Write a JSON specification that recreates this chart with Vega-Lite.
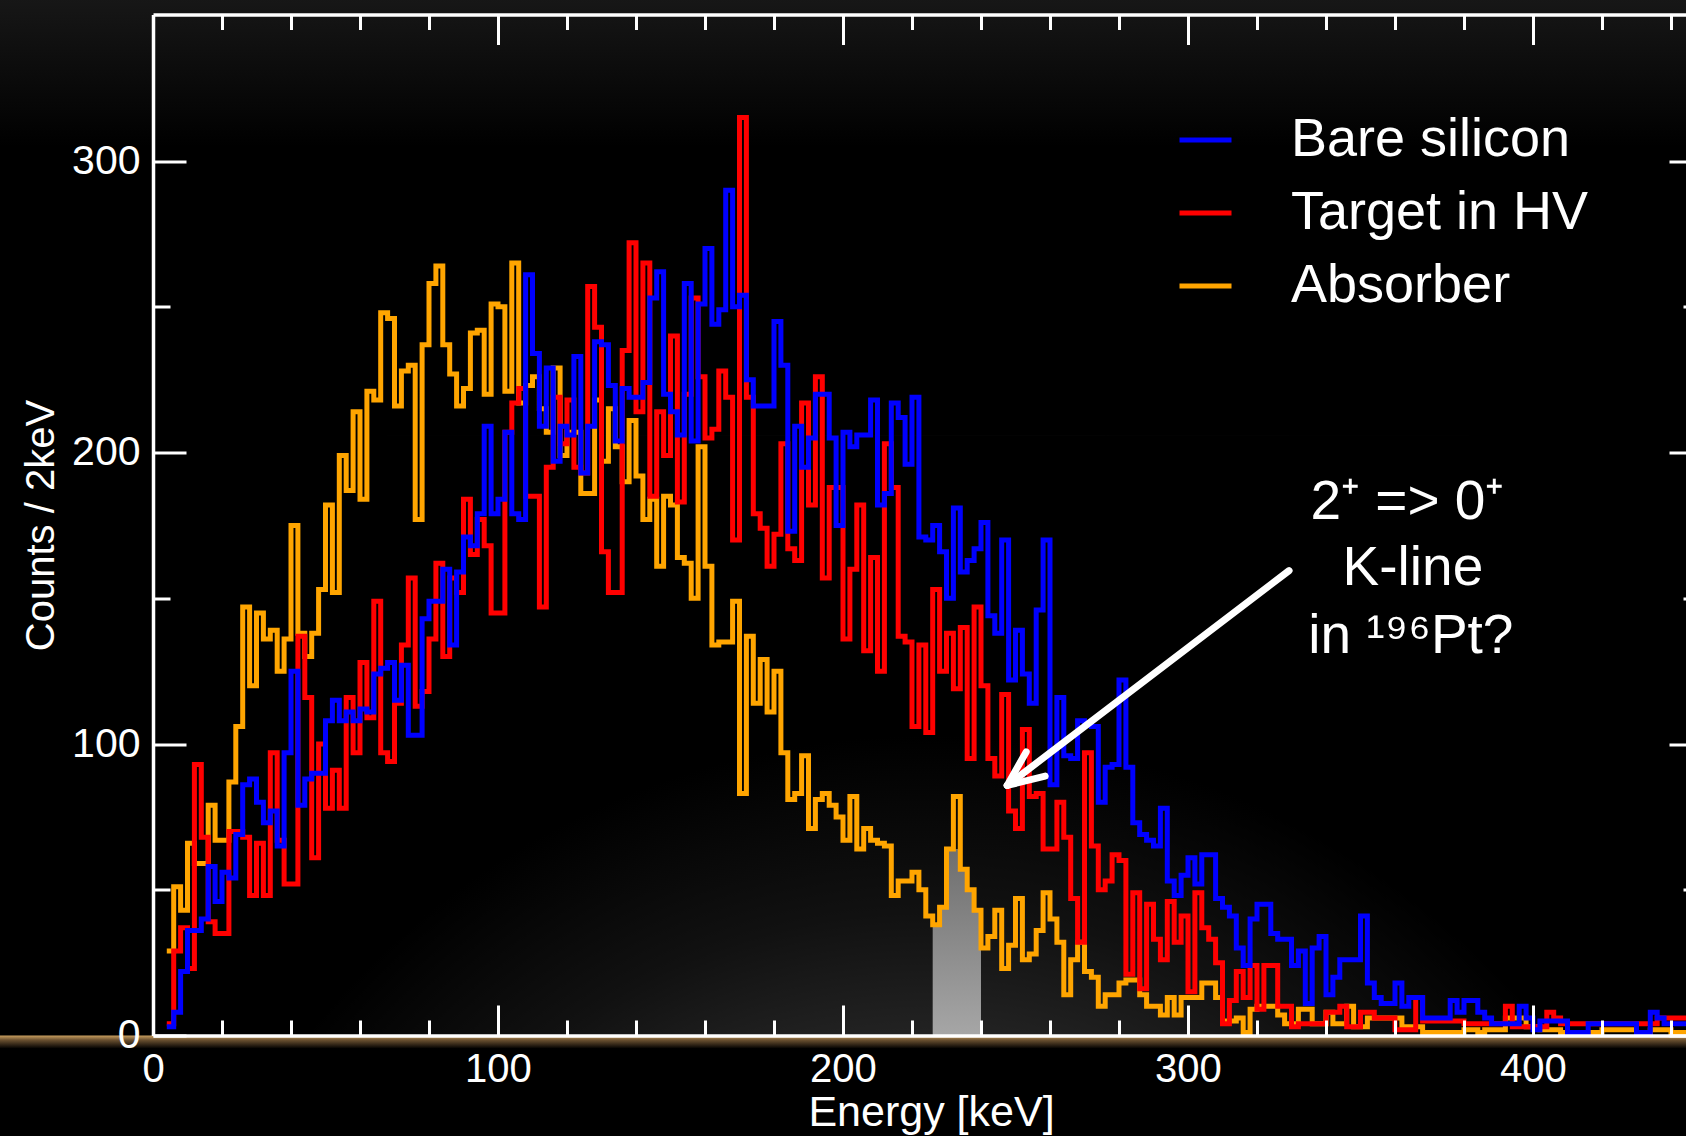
{
  "$schema": "https://vega.github.io/schema/vega-lite/v6.json",
  "width": 1533,
  "height": 1021,
  "autosize": {"type": "none"},
  "padding": {"left": 153, "top": 14.5, "right": 0, "bottom": 100.5},
  "background": "#000000",
  "config": {"view": {"stroke": null}, "font": "Liberation Sans"},
  "data": {"values": [
    {"E":4,"b":3,"r":4,"o":29},{"E":6,"b":8,"r":29,"o":51},{"E":8,"b":22,"r":37,"o":43},{"E":10,"b":36,"r":23,"o":66},
    {"E":12,"b":36,"r":93,"o":59},{"E":14,"b":40,"r":68,"o":59},{"E":16,"b":58,"r":39,"o":79},{"E":18,"b":46,"r":35,"o":67},
    {"E":20,"b":56,"r":35,"o":67},{"E":22,"b":54,"r":70,"o":87},{"E":24,"b":69,"r":70,"o":106},{"E":26,"b":86,"r":68,"o":147},
    {"E":28,"b":88,"r":48,"o":120},{"E":30,"b":80,"r":66,"o":145},{"E":32,"b":73,"r":48,"o":136},{"E":34,"b":77,"r":97,"o":139},
    {"E":36,"b":65,"r":67,"o":125},{"E":38,"b":97,"r":52,"o":136},{"E":40,"b":125,"r":52,"o":175},{"E":42,"b":79,"r":137,"o":138},
    {"E":44,"b":88,"r":116,"o":130},{"E":46,"b":90,"r":61,"o":138},{"E":48,"b":90,"r":100,"o":153},{"E":50,"b":108,"r":78,"o":182},
    {"E":52,"b":115,"r":91,"o":152},{"E":54,"b":108,"r":78,"o":199},{"E":56,"b":111,"r":116,"o":187},{"E":58,"b":108,"r":97,"o":214},
    {"E":60,"b":112,"r":128,"o":184},{"E":62,"b":111,"r":109,"o":221},{"E":64,"b":124,"r":149,"o":218},{"E":66,"b":126,"r":97,"o":248},
    {"E":68,"b":128,"r":94,"o":246},{"E":70,"b":115,"r":114,"o":216},{"E":72,"b":127,"r":134,"o":228},{"E":74,"b":103,"r":157,"o":230},
    {"E":76,"b":103,"r":113,"o":177},{"E":78,"b":143,"r":118,"o":237},{"E":80,"b":149,"r":136,"o":258},{"E":82,"b":149,"r":162,"o":264},
    {"E":84,"b":160,"r":130,"o":237},{"E":86,"b":134,"r":157,"o":227},{"E":88,"b":159,"r":152,"o":216},{"E":90,"b":171,"r":184,"o":222},
    {"E":92,"b":168,"r":165,"o":241},{"E":94,"b":179,"r":177,"o":242},{"E":96,"b":209,"r":168,"o":220},{"E":98,"b":179,"r":145,"o":251},
    {"E":100,"b":184,"r":145,"o":250},{"E":102,"b":207,"r":207,"o":221},{"E":104,"b":179,"r":217,"o":265},{"E":106,"b":177,"r":222,"o":217},
    {"E":108,"b":261,"r":185,"o":223},{"E":110,"b":234,"r":185,"o":226},{"E":112,"b":209,"r":147,"o":215},{"E":114,"b":229,"r":195,"o":207},
    {"E":116,"b":197,"r":219,"o":229},{"E":118,"b":209,"r":203,"o":199},{"E":120,"b":206,"r":218,"o":207},{"E":122,"b":233,"r":195,"o":207},
    {"E":124,"b":193,"r":193,"o":186},{"E":126,"b":209,"r":257,"o":186},{"E":128,"b":238,"r":243,"o":218},{"E":130,"b":237,"r":166,"o":197},
    {"E":132,"b":223,"r":152,"o":215},{"E":134,"b":204,"r":152,"o":202},{"E":136,"b":222,"r":235,"o":190},{"E":138,"b":219,"r":272,"o":211},
    {"E":140,"b":219,"r":214,"o":192},{"E":142,"b":224,"r":265,"o":177},{"E":144,"b":253,"r":185,"o":184},{"E":146,"b":262,"r":214,"o":161},
    {"E":148,"b":220,"r":199,"o":185},{"E":150,"b":214,"r":240,"o":182},{"E":152,"b":206,"r":183,"o":164},{"E":154,"b":258,"r":220,"o":162},
    {"E":156,"b":204,"r":253,"o":150},{"E":158,"b":251,"r":226,"o":202},{"E":160,"b":270,"r":205,"o":161},{"E":162,"b":244,"r":208,"o":134},
    {"E":164,"b":249,"r":228,"o":135},{"E":166,"b":290,"r":219,"o":135},{"E":168,"b":250,"r":170,"o":149},{"E":170,"b":254,"r":315,"o":83},
    {"E":172,"b":225,"r":219,"o":137},{"E":174,"b":216,"r":179,"o":114},{"E":176,"b":216,"r":174,"o":129},{"E":178,"b":216,"r":161,"o":111},
    {"E":180,"b":245,"r":172,"o":125},{"E":182,"b":230,"r":203,"o":97},{"E":184,"b":173,"r":167,"o":81},{"E":186,"b":209,"r":163,"o":83},
    {"E":188,"b":195,"r":217,"o":96},{"E":190,"b":205,"r":182,"o":71},{"E":192,"b":220,"r":226,"o":81},{"E":194,"b":220,"r":157,"o":83},
    {"E":196,"b":205,"r":188,"o":79},{"E":198,"b":175,"r":188,"o":75},{"E":200,"b":207,"r":136,"o":67},{"E":202,"b":202,"r":160,"o":82},
    {"E":204,"b":206,"r":182,"o":64},{"E":206,"b":206,"r":132,"o":71},{"E":208,"b":218,"r":164,"o":67},{"E":210,"b":182,"r":125,"o":66},
    {"E":212,"b":186,"r":203,"o":65},{"E":214,"b":217,"r":188,"o":48},{"E":216,"b":212,"r":137,"o":53},{"E":218,"b":196,"r":135,"o":53},
    {"E":220,"b":219,"r":106,"o":56},{"E":222,"b":171,"r":134,"o":50},{"E":224,"b":170,"r":104,"o":41},{"E":226,"b":175,"r":153,"o":38},
    {"E":228,"b":166,"r":125,"o":44},{"E":230,"b":150,"r":138,"o":64},{"E":232,"b":181,"r":119,"o":82},{"E":234,"b":159,"r":140,"o":57},
    {"E":236,"b":163,"r":95,"o":50},{"E":238,"b":167,"r":147,"o":43},{"E":240,"b":176,"r":120,"o":30},{"E":242,"b":144,"r":95,"o":34},
    {"E":244,"b":138,"r":89,"o":43},{"E":246,"b":170,"r":117,"o":23},{"E":248,"b":122,"r":77,"o":31},{"E":250,"b":139,"r":71,"o":47},
    {"E":252,"b":124,"r":105,"o":26},{"E":254,"b":114,"r":82,"o":28},{"E":256,"b":146,"r":83,"o":36},{"E":258,"b":170,"r":64,"o":49},
    {"E":260,"b":86,"r":64,"o":40},{"E":262,"b":116,"r":80,"o":32},{"E":264,"b":96,"r":68,"o":14},{"E":266,"b":95,"r":47,"o":26},
    {"E":268,"b":108,"r":32,"o":32},{"E":270,"b":107,"r":97,"o":22},{"E":272,"b":106,"r":65,"o":20},{"E":274,"b":80,"r":50,"o":10},
    {"E":276,"b":92,"r":53,"o":14},{"E":278,"b":93,"r":62,"o":14},{"E":280,"b":122,"r":60,"o":18},{"E":282,"b":92,"r":21,"o":19},
    {"E":284,"b":73,"r":49,"o":19},{"E":286,"b":69,"r":16,"o":14},{"E":288,"b":67,"r":45,"o":10},{"E":290,"b":65,"r":33,"o":10},
    {"E":292,"b":78,"r":26,"o":7},{"E":294,"b":53,"r":46,"o":13},{"E":296,"b":48,"r":32,"o":7},{"E":298,"b":55,"r":41,"o":13},
    {"E":300,"b":61,"r":15,"o":13},{"E":302,"b":52,"r":49,"o":13},{"E":304,"b":62,"r":37,"o":18},{"E":306,"b":62,"r":33,"o":18},
    {"E":308,"b":47,"r":25,"o":13},{"E":310,"b":44,"r":4,"o":5},{"E":312,"b":41,"r":12,"o":5},{"E":314,"b":30,"r":22,"o":6},
    {"E":316,"b":24,"r":13,"o":1},{"E":318,"b":40,"r":24,"o":9},{"E":320,"b":45,"r":9,"o":10},{"E":322,"b":45,"r":24,"o":10},
    {"E":324,"b":35,"r":24,"o":10},{"E":326,"b":33,"r":10,"o":7},{"E":328,"b":33,"r":10,"o":4},{"E":330,"b":24,"r":3,"o":4},
    {"E":332,"b":29,"r":4,"o":9},{"E":334,"b":11,"r":4,"o":9},{"E":336,"b":30,"r":4,"o":4},{"E":338,"b":34,"r":4,"o":4},
    {"E":340,"b":14,"r":8,"o":8},{"E":342,"b":20,"r":8,"o":4},{"E":344,"b":26,"r":10,"o":4},{"E":346,"b":26,"r":3,"o":10},
    {"E":348,"b":26,"r":3,"o":3},{"E":350,"b":41,"r":8,"o":3},{"E":352,"b":18,"r":8,"o":6},{"E":354,"b":13,"r":6,"o":6},
    {"E":356,"b":11,"r":6,"o":6},{"E":358,"b":11,"r":6,"o":6},{"E":360,"b":18,"r":2,"o":6},{"E":362,"b":10,"r":2,"o":3},
    {"E":364,"b":13,"r":2,"o":3},{"E":366,"b":13,"r":13,"o":3},{"E":368,"b":6,"r":5,"o":1},{"E":370,"b":6,"r":5,"o":1},
    {"E":372,"b":6,"r":5,"o":1},{"E":374,"b":6,"r":5,"o":1},{"E":376,"b":12,"r":5,"o":1},{"E":378,"b":8,"r":5,"o":1},
    {"E":380,"b":12,"r":4,"o":2},{"E":382,"b":12,"r":4,"o":2},{"E":384,"b":8,"r":4,"o":1},{"E":386,"b":6,"r":4,"o":2},
    {"E":388,"b":4,"r":4,"o":2},{"E":390,"b":4,"r":4,"o":2},{"E":392,"b":4,"r":10,"o":6},{"E":394,"b":4,"r":3,"o":6},
    {"E":396,"b":10,"r":3,"o":6},{"E":398,"b":6,"r":3,"o":3},{"E":400,"b":2,"r":3,"o":3},{"E":402,"b":5,"r":3,"o":2},
    {"E":404,"b":5,"r":8,"o":2},{"E":406,"b":5,"r":6,"o":2},{"E":408,"b":5,"r":4,"o":1},{"E":410,"b":1,"r":4,"o":1},
    {"E":412,"b":1,"r":4,"o":1},{"E":414,"b":1,"r":4,"o":1},{"E":416,"b":4,"r":4,"o":1},{"E":418,"b":4,"r":4,"o":1},
    {"E":420,"b":4,"r":4,"o":2},{"E":422,"b":4,"r":4,"o":2},{"E":424,"b":4,"r":4,"o":2},{"E":426,"b":4,"r":4,"o":2},
    {"E":428,"b":4,"r":4,"o":2},{"E":430,"b":1,"r":4,"o":1},{"E":432,"b":1,"r":4,"o":1},{"E":434,"b":8,"r":4,"o":2},
    {"E":436,"b":6,"r":6,"o":2},{"E":438,"b":4,"r":6,"o":2},{"E":440,"b":4,"r":6,"o":1},{"E":442,"b":4,"r":6,"o":1},
    {"E":444,"b":4,"r":6,"o":1},{"E":446,"b":4,"r":6,"o":1}
  ]},
  "layer": [
    {
      "data": {"values": [{}]},
      "mark": {"type": "rect", "clip": false, "fill": {"gradient": "linear", "x1": 0, "y1": 0, "x2": 0, "y2": 1, "stops": [{"offset": 0, "color": "#171717"}, {"offset": 1, "color": "#000000"}]}},
      "encoding": {
        "x": {"datum": -60, "type": "quantitative", "scale": {"domain": [0, 444.35], "nice": false, "zero": false},
          "axis": {"orient": "bottom", "values": [0,20,40,60,80,100,120,140,160,180,200,220,240,260,280,300,320,340,360,380,400,420,440],
            "labels": false, "domain": false, "grid": false, "title": null, "ticks": true, "tickSize": -15.5, "tickColor": "#ffffff", "tickWidth": 3, "zindex": 1}},
        "x2": {"datum": 460},
        "y": {"datum": 356, "type": "quantitative", "scale": {"domain": [0, 350.3], "nice": false, "zero": false},
          "axis": {"orient": "left", "values": [50,150,250],
            "labels": false, "domain": false, "grid": false, "title": null, "ticks": true, "tickSize": -17, "tickColor": "#ffffff", "tickWidth": 3, "zindex": 1}},
        "y2": {"datum": 305}
      }
    },
    {
      "data": {"values": [{}]},
      "mark": {"type": "rect", "clip": true, "fill": {"gradient": "radial", "x1": 0.5, "y1": 1, "r1": 0, "x2": 0.5, "y2": 1, "r2": 0.5, "stops": [{"offset": 0, "color": "#4c4c4c"}, {"offset": 0.55, "color": "#2b2b2b"}, {"offset": 0.78, "color": "#111111"}, {"offset": 1, "color": "#000000"}]}},
      "encoding": {
        "x": {"datum": -7, "type": "quantitative", "scale": {"domain": [0, 444.35], "nice": false, "zero": false},
          "axis": {"orient": "bottom", "values": [0,100,200,300,400],
            "labels": false, "domain": false, "grid": false, "title": null, "ticks": true, "tickSize": -30.5, "tickColor": "#ffffff", "tickWidth": 3, "zindex": 1}},
        "x2": {"datum": 457},
        "y": {"datum": 0, "type": "quantitative", "scale": {"domain": [0, 350.3], "nice": false, "zero": false},
          "axis": {"orient": "left", "values": [0,100,200,300],
            "labels": false, "domain": false, "grid": false, "title": null, "ticks": true, "tickSize": -33, "tickColor": "#ffffff", "tickWidth": 3, "zindex": 1}},
        "y2": {"datum": 206}
      }
    },
    {
      "data": {"values": [{}]},
      "mark": {"type": "rect", "clip": false, "fill": {"gradient": "linear", "x1": 0, "y1": 0, "x2": 0, "y2": 1, "stops": [{"offset": 0, "color": "#caa060"}, {"offset": 0.35, "color": "#6a5030"}, {"offset": 1, "color": "#000000"}]}},
      "encoding": {
        "x": {"datum": -50, "type": "quantitative", "scale": {"domain": [0, 444.35], "nice": false, "zero": false},
          "axis": {"orient": "top", "values": [0,100,200,300,400],
            "labels": false, "domain": false, "grid": false, "title": null, "ticks": true, "tickSize": -30, "tickColor": "#ffffff", "tickWidth": 3, "zindex": 1}},
        "x2": {"datum": 460},
        "y": {"datum": 0, "type": "quantitative", "scale": {"domain": [0, 350.3], "nice": false, "zero": false},
          "axis": {"orient": "right", "values": [0,100,200,300],
            "labels": false, "domain": false, "grid": false, "title": null, "ticks": true, "tickSize": -17, "tickColor": "#ffffff", "tickWidth": 3, "zindex": 1}},
        "y2": {"datum": -4.5}
      }
    },
    {
      "data": {"values": [{"E":226,"g":38},{"E":228,"g":44},{"E":230,"g":64},{"E":232,"g":64},{"E":234,"g":57},{"E":236,"g":50},{"E":238,"g":43},{"E":240,"g":43}]},
      "mark": {"type": "area", "interpolate": "step-after", "fill": {"gradient": "linear", "x1": 0, "y1": 0, "x2": 0, "y2": 1, "stops": [{"offset": 0, "color": "#6e6e6e"}, {"offset": 1, "color": "#a6a6a6"}]}},
      "encoding": {
        "x": {"field": "E", "type": "quantitative", "scale": {"domain": [0, 444.35], "nice": false, "zero": false}, "axis": null},
        "y": {"field": "g", "type": "quantitative", "scale": {"domain": [0, 350.3], "nice": false, "zero": false},
          "axis": {"orient": "right", "values": [50,150,250],
            "labels": false, "domain": false, "grid": false, "title": null, "ticks": true, "tickSize": -3, "tickColor": "#ffffff", "tickWidth": 3, "zindex": 1}},
        "y2": {"datum": 0}
      }
    },
    {
      "mark": {"type": "line", "interpolate": "step-after", "strokeWidth": 5, "strokeJoin": "miter", "clip": true},
      "encoding": {
        "x": {"field": "E", "type": "quantitative", "scale": {"domain": [0, 444.35], "nice": false, "zero": false},
          "axis": {"orient": "bottom", "values": [0,100,200,300,400],
            "domainColor": "#ffffff", "domainWidth": 3.5, "ticks": false, "tickSize": 0,
            "labelColor": "#ffffff", "labelFont": "Liberation Sans", "labelFontSize": 40, "labelPadding": 13.5, "labelOverlap": false, "labelFlush": false,
            "grid": false, "title": "Energy [keV]", "titleColor": "#ffffff", "titleFont": "Liberation Sans", "titleFontSize": 43, "titleFontWeight": "normal",
            "titleX": 778, "titleY": 90, "titleBaseline": "alphabetic", "titleAlign": "center", "zindex": 1}},
        "y": {"field": "o", "type": "quantitative", "scale": {"domain": [0, 350.3], "nice": false, "zero": false},
          "axis": {"orient": "left", "values": [0,100,200,300],
            "domainColor": "#ffffff", "domainWidth": 3.5, "ticks": false, "tickSize": 0,
            "labelColor": "#ffffff", "labelFont": "Liberation Sans", "labelFontSize": 41, "labelPadding": 13, "labelOverlap": false, "labelFlush": false,
            "grid": false, "title": "Counts / 2keV", "titleColor": "#ffffff", "titleFont": "Liberation Sans", "titleFontSize": 40, "titleFontWeight": "normal",
            "titleAngle": -90, "titleX": -100, "titleY": 510.5, "titleBaseline": "alphabetic", "titleAlign": "center", "zindex": 1}},
        "color": {"datum": "Absorber", "type": "nominal",
          "scale": {"domain": ["Bare silicon", "Target in HV", "Absorber"], "range": ["#0000ff", "#ff0000", "#ffa500"]},
          "legend": {"orient": "none", "legendX": 1024, "legendY": 97, "title": null, "symbolType": "stroke", "symbolSize": 2704,
            "symbolStrokeWidth": 5, "labelFont": "Liberation Sans", "labelFontSize": 54, "labelColor": "#ffffff", "labelOffset": 57,
            "rowPadding": 17, "padding": 0, "labelLimit": 0}}
      }
    },
    {
      "mark": {"type": "line", "interpolate": "step-after", "strokeWidth": 5, "strokeJoin": "miter", "clip": true},
      "encoding": {
        "x": {"field": "E", "type": "quantitative", "scale": {"domain": [0, 444.35], "nice": false, "zero": false},
          "axis": {"orient": "top", "values": [0,20,40,60,80,100,120,140,160,180,200,220,240,260,280,300,320,340,360,380,400,420,440],
            "labels": false, "domainColor": "#ffffff", "domainWidth": 3.5, "ticks": true, "tickColor": "#ffffff", "tickWidth": 3, "tickSize": -15,
            "grid": false, "title": null, "zindex": 1}},
        "y": {"field": "r", "type": "quantitative", "scale": {"domain": [0, 350.3], "nice": false, "zero": false}, "axis": null},
        "color": {"datum": "Target in HV", "type": "nominal"}
      }
    },
    {
      "mark": {"type": "line", "interpolate": "step-after", "strokeWidth": 5, "strokeJoin": "miter", "clip": true},
      "encoding": {
        "x": {"field": "E", "type": "quantitative", "scale": {"domain": [0, 444.35], "nice": false, "zero": false}, "axis": null},
        "y": {"field": "b", "type": "quantitative", "scale": {"domain": [0, 350.3], "nice": false, "zero": false}, "axis": null},
        "color": {"datum": "Bare silicon", "type": "nominal"}
      }
    },
    {
      "data": {"values": [{}]},
      "mark": {"type": "rule", "color": "#ffffff", "strokeWidth": 7, "strokeCap": "round"},
      "encoding": {
        "x": {"datum": 329.3, "type": "quantitative", "scale": {"domain": [0, 444.35], "nice": false, "zero": false}, "axis": null},
        "y": {"datum": 159.5, "type": "quantitative", "scale": {"domain": [0, 350.3], "nice": false, "zero": false}, "axis": null},
        "x2": {"datum": 247.6},
        "y2": {"datum": 85.8}
      }
    },
    {
      "data": {"values": [{}]},
      "mark": {"type": "rule", "color": "#ffffff", "strokeWidth": 7, "strokeCap": "round"},
      "encoding": {
        "x": {"datum": 253.1, "type": "quantitative", "scale": {"domain": [0, 444.35], "nice": false, "zero": false}, "axis": null},
        "y": {"datum": 97.3, "type": "quantitative", "scale": {"domain": [0, 350.3], "nice": false, "zero": false}, "axis": null},
        "x2": {"datum": 247.6},
        "y2": {"datum": 85.8}
      }
    },
    {
      "data": {"values": [{}]},
      "mark": {"type": "rule", "color": "#ffffff", "strokeWidth": 7, "strokeCap": "round"},
      "encoding": {
        "x": {"datum": 258.6, "type": "quantitative", "scale": {"domain": [0, 444.35], "nice": false, "zero": false}, "axis": null},
        "y": {"datum": 89.0, "type": "quantitative", "scale": {"domain": [0, 350.3], "nice": false, "zero": false}, "axis": null},
        "x2": {"datum": 247.6},
        "y2": {"datum": 85.8}
      }
    },
    {
      "data": {"values": [{}]},
      "mark": {"type": "text", "text": "2⁺ => 0⁺", "font": "Liberation Sans", "fontSize": 55, "color": "#ffffff", "align": "center", "baseline": "alphabetic"},
      "encoding": {
        "x": {"datum": 363.6, "type": "quantitative", "scale": {"domain": [0, 444.35], "nice": false, "zero": false}, "axis": null},
        "y": {"datum": 177.3, "type": "quantitative", "scale": {"domain": [0, 350.3], "nice": false, "zero": false}, "axis": null}
      }
    },
    {
      "data": {"values": [{}]},
      "mark": {"type": "text", "text": "K-line", "font": "Liberation Sans", "fontSize": 55, "color": "#ffffff", "align": "center", "baseline": "alphabetic"},
      "encoding": {
        "x": {"datum": 365.2, "type": "quantitative", "scale": {"domain": [0, 444.35], "nice": false, "zero": false}, "axis": null},
        "y": {"datum": 154.4, "type": "quantitative", "scale": {"domain": [0, 350.3], "nice": false, "zero": false}, "axis": null}
      }
    },
    {
      "data": {"values": [{}]},
      "mark": {"type": "text", "text": "in ¹⁹⁶Pt?", "font": "Liberation Sans", "fontSize": 55, "color": "#ffffff", "align": "center", "baseline": "alphabetic"},
      "encoding": {
        "x": {"datum": 364.6, "type": "quantitative", "scale": {"domain": [0, 444.35], "nice": false, "zero": false}, "axis": null},
        "y": {"datum": 131.3, "type": "quantitative", "scale": {"domain": [0, 350.3], "nice": false, "zero": false}, "axis": null}
      }
    }
  ],
  "resolve": {"axis": {"x": "independent", "y": "independent"}}
}
